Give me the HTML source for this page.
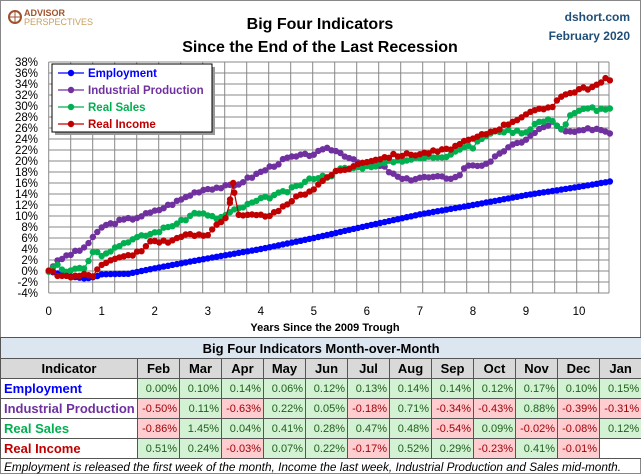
<!DOCTYPE html>
<html><head><meta charset="utf-8"><style>
body{margin:0;background:#fff;width:641px;height:474px;overflow:hidden;font-family:"Liberation Sans",sans-serif}
#wrap{position:absolute;left:0;top:0;width:639px;height:472px;border:1px solid #888}
table{position:absolute;left:0;top:337px;border-collapse:collapse;width:641px;table-layout:fixed}
td{border:1px solid #555;font-size:11px;text-align:right;padding:0 2px;height:20px;line-height:18px;box-sizing:border-box;white-space:nowrap;overflow:hidden}
.g{background:#d3f2d3;color:#1e5e1e}.r{background:#ffccd0;color:#9c0006}
.h td{background:#d9d9d9;font-weight:bold;font-size:13px;text-align:center;color:#000;height:20px}
.t td{background:#dce6f1;font-weight:bold;font-size:13px;text-align:center;height:21px;line-height:19px}
td.n{text-align:left;font-weight:bold;font-size:13px;padding-left:3px;background:#fff}
#foot{position:absolute;left:4px;top:460px;font-size:11.8px;font-style:italic}
</style></head><body><div id="wrap"></div>
<svg id="s" width="641" height="337" style="position:absolute;left:0;top:0" font-family="Liberation Sans, sans-serif"></svg>
<table>
<colgroup><col style="width:137px"><col span="12" style="width:42px"></colgroup>
<tr class="t"><td colspan="13">Big Four Indicators Month-over-Month</td></tr>
<tr class="h"><td>Indicator</td><td>Feb</td><td>Mar</td><td>Apr</td><td>May</td><td>Jun</td><td>Jul</td><td>Aug</td><td>Sep</td><td>Oct</td><td>Nov</td><td>Dec</td><td>Jan</td></tr>
<tr><td class="n" style="color:#0000ff">Employment</td><td class="g">0.00%</td><td class="g">0.10%</td><td class="g">0.14%</td><td class="g">0.06%</td><td class="g">0.12%</td><td class="g">0.13%</td><td class="g">0.14%</td><td class="g">0.14%</td><td class="g">0.12%</td><td class="g">0.17%</td><td class="g">0.10%</td><td class="g">0.15%</td></tr>
<tr><td class="n" style="color:#7030a0">Industrial Production</td><td class="r">-0.50%</td><td class="g">0.11%</td><td class="r">-0.63%</td><td class="g">0.22%</td><td class="g">0.05%</td><td class="r">-0.18%</td><td class="g">0.71%</td><td class="r">-0.34%</td><td class="r">-0.43%</td><td class="g">0.88%</td><td class="r">-0.39%</td><td class="r">-0.31%</td></tr>
<tr><td class="n" style="color:#00b050">Real Sales</td><td class="r">-0.86%</td><td class="g">1.45%</td><td class="g">0.04%</td><td class="g">0.41%</td><td class="g">0.28%</td><td class="g">0.47%</td><td class="g">0.48%</td><td class="r">-0.54%</td><td class="g">0.09%</td><td class="r">-0.02%</td><td class="r">-0.08%</td><td class="g">0.12%</td></tr>
<tr><td class="n" style="color:#c00000">Real Income</td><td class="g">0.51%</td><td class="g">0.24%</td><td class="r">-0.03%</td><td class="g">0.07%</td><td class="g">0.22%</td><td class="r">-0.17%</td><td class="g">0.52%</td><td class="g">0.29%</td><td class="r">-0.23%</td><td class="g">0.41%</td><td class="r">-0.01%</td><td style="background:#fff"></td></tr>
</table>
<div id="foot">Employment is released the first week of the month, Income the last week, Industrial Production and Sales mid-month.</div>
<script>
var s=document.getElementById('s'),h='';
var X=function(y){return 48.7+53.03*y},Y=function(p){return 271-5.5*p};
for(var i=0;i<=21;i++){var y=62+i*11;h+='<line x1="48.7" x2="609" y1="'+y+'" y2="'+y+'" stroke="#888"/>';
h+='<text x="38" y="'+(y+4)+'" font-size="11.5" text-anchor="end">'+(38-2*i)+'%</text>';}
for(var k=0;k<=25;k++){var x=48.7+22*k;if(x>609)break;h+='<line x1="'+x+'" x2="'+x+'" y1="62" y2="293" stroke="#888"/>';}
h+='<line x1="609" x2="609" y1="62" y2="293" stroke="#888"/>';
for(var k=0;k<=10;k++)h+='<text x="'+X(k)+'" y="315" font-size="11.5" text-anchor="middle">'+k+'</text>';
h+='<text x="325" y="331" font-size="11" font-weight="bold" text-anchor="middle">Years Since the 2009 Trough</text>';
h+='<text x="320" y="29" font-size="16" font-weight="bold" text-anchor="middle">Big Four Indicators</text>';
h+='<text x="320" y="52" font-size="16" font-weight="bold" text-anchor="middle">Since the End of the Last Recession</text>';
h+='<text x="630" y="21" font-size="12" font-weight="bold" fill="#1f4e79" text-anchor="end">dshort.com</text>';
h+='<text x="630" y="40" font-size="12" font-weight="bold" fill="#1f4e79" text-anchor="end">February 2020</text>';
h+='<circle cx="15" cy="17" r="6" fill="none" stroke="#a0522d" stroke-width="2"/><line x1="9" x2="21" y1="17" y2="17" stroke="#a0522d"/><line x1="15" x2="15" y1="11" y2="23" stroke="#a0522d"/>';
h+='<text x="24" y="16" font-size="9" font-weight="bold" fill="#a0522d">ADVISOR</text><text x="24" y="25" font-size="9" fill="#c8a060">PERSPECTIVES</text>';
var D={
'#0000ff':[[0,0],[0.3,-0.8],[0.7,-1.4],[0.9,-1],[1,-0.6],[1.5,-0.5],[2,0.5],[3,2.3],[4,4],[5,6],[6,8.2],[7,10.3],[8,12],[9,13.8],[10,15.3],[10.6,16.3]],
'#7030a0':[[0,0],[0.1,1.2],[0.3,2.6],[0.6,3.8],[0.8,5.5],[1,8],[1.3,9],[1.6,9.6],[2,10.8],[2.5,13],[2.8,14.5],[3,15],[3.5,15.5],[4,18],[4.5,20.5],[5,21.3],[5.3,22.3],[5.6,21],[6,19.3],[6.3,19],[6.5,17.5],[6.7,16.5],[7,17],[7.7,17],[7.9,19.3],[8.3,19.3],[8.5,21.5],[9,24],[9.3,26],[9.5,27],[9.7,25.3],[10,25.3],[10.3,26],[10.6,25.2]],
'#00b050':[[0,0],[0.15,1.5],[0.3,0],[0.5,0.6],[0.7,0.6],[0.78,3],[0.9,3.8],[1,3],[1.5,5.5],[2,7],[2.5,9],[2.8,10.8],[3,10],[3.2,9.5],[3.5,11],[4,13],[4.5,14.5],[5,17],[5.3,17.3],[5.5,18.5],[6,19],[6.3,19.5],[6.5,20],[7,20.5],[7.5,21],[7.8,22.5],[8,22.5],[8.2,24.5],[8.5,25.5],[9,25.3],[9.2,27],[9.5,27.5],[9.7,25.5],[9.8,28],[10,29],[10.2,30],[10.3,29.3],[10.6,29.3]],
'#c00000':[[0,0],[0.3,-1.2],[0.6,-0.7],[0.85,-0.8],[0.95,1.2],[1.2,2],[1.5,2.8],[1.8,3.8],[1.9,5.5],[2.3,5.3],[2.5,6.5],[3,6.5],[3.1,8],[3.3,9.5],[3.4,10],[3.42,13],[3.48,16],[3.55,10],[3.8,10],[4,10],[4.3,10.5],[4.6,13],[5,15],[5.3,17.5],[5.6,18.5],[6,20],[6.5,21],[7,21.3],[7.5,22],[8,24],[8.5,26],[9,28.5],[9.5,30],[9.6,31.5],[10,33],[10.3,33.5],[10.5,34.8],[10.6,34.6]]};
function interp(a,t){for(var i=1;i<a.length;i++)if(t<=a[i][0]){var f=(t-a[i-1][0])/(a[i][0]-a[i-1][0]);return a[i-1][1]+f*(a[i][1]-a[i-1][1]);}return a[a.length-1][1];}
var seed=3;function rnd(){seed=(seed*9301+49297)%233280;return seed/233280-0.5;}
for(var c in D){var pts=[],a=D[c];var n=Math.round(a[a.length-1][0]*12);
for(var m=0;m<=n;m++){var t=m/12;var v=interp(a,t)+(c=='#0000ff'?0:rnd()*0.6);pts.push(X(t).toFixed(1)+','+Y(v).toFixed(1));}
if(c=='#c00000'){pts.splice(42,0,X(3.42).toFixed(1)+','+Y(13).toFixed(1),X(3.48).toFixed(1)+','+Y(16).toFixed(1));}
h+='<polyline fill="none" stroke="'+c+'" stroke-width="1.3" points="'+pts.join(' ')+'"/>';
pts.forEach(function(p){var q=p.split(',');h+='<circle cx="'+q[0]+'" cy="'+q[1]+'" r="3.2" fill="'+c+'"/>';});}
h+='<rect x="55" y="67" width="160" height="68" fill="#999"/><rect x="52" y="64" width="160" height="68" fill="#fff" stroke="#000"/>';
[['Employment','#0000ff'],['Industrial Production','#7030a0'],['Real Sales','#00b050'],['Real Income','#c00000']].forEach(function(e,i){var y=73+i*17;
h+='<line x1="58" x2="84" y1="'+y+'" y2="'+y+'" stroke="'+e[1]+'" stroke-width="1.3"/><circle cx="71" cy="'+y+'" r="3.2" fill="'+e[1]+'"/>';
h+='<text x="88" y="'+(y+4)+'" font-size="11.5" font-weight="bold" fill="'+e[1]+'">'+e[0]+'</text>';});
s.innerHTML=h;
</script></body></html>
